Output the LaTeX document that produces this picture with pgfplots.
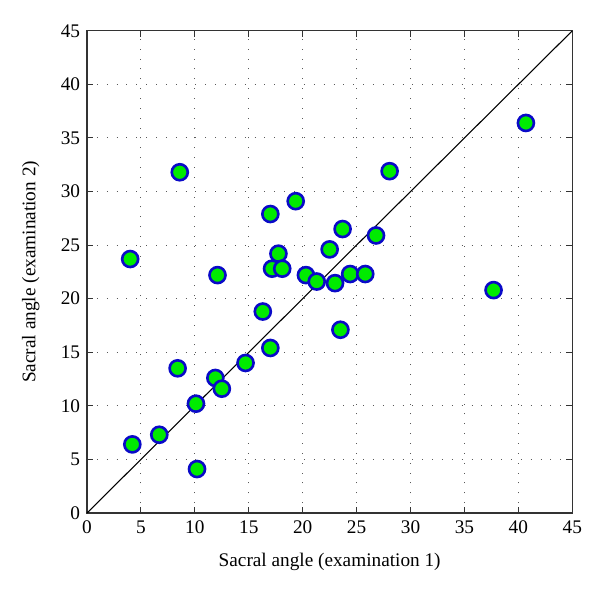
\documentclass[border=0pt]{standalone}
\usepackage{fontspec}
\setmainfont{Liberation Serif}
\usepackage{pgfplots}
\pgfplotsset{compat=1.18}
\definecolor{ptfill}{RGB}{0,235,0}
\definecolor{ptedge}{RGB}{10,10,200}
\begin{document}
\begin{tikzpicture}
\begin{axis}[
  scale only axis,
  width=315pt, height=313pt,
  xmin=0, xmax=45, ymin=0, ymax=45,
  xtick={0,5,...,45}, ytick={0,5,...,45},
  tick align=inside,
  major tick length=4pt,
  grid=major,
  grid style={black!65, line width=0.6pt, dash pattern=on 0.6pt off 5.8pt},
  axis line style={black!80, line width=0.8pt},
  tick style={black!80, line width=0.6pt},
  /pgf/number format/assume math mode=true,
  tick label style={font=\fontsize{12.5}{14}\selectfont},
  xticklabel style={yshift=-1.5pt},
  yticklabel style={xshift=-1pt},
  label style={font=\fontsize{12.5}{15}\selectfont},
  xlabel={Sacral angle (examination 1)},
  ylabel={Sacral angle (examination 2)},
  xlabel style={yshift=-6pt},
  ylabel style={yshift=7pt},
  clip=false,
]
\addplot[only marks, mark=*, mark size=5.2pt,
  mark options={fill=ptfill, draw=ptedge, line width=1.7pt}]
  coordinates {
  (4.0,23.7) (8.6,31.8) (4.2,6.4) (6.7,7.3) (8.4,13.5)
  (10.1,10.2) (10.2,4.1) (11.9,12.6) (12.5,11.6) (12.1,22.2)
  (14.7,14.0) (17.0,15.4) (16.3,18.8) (17.0,27.9) (17.16,22.8)
  (17.75,24.2) (18.1,22.8) (19.35,29.1) (20.3,22.2) (21.3,21.6)
  (23.0,21.45) (22.5,24.6) (23.5,17.1) (23.7,26.5) (24.4,22.3)
  (25.8,22.3) (26.8,25.9) (28.06,31.9) (37.7,20.8) (40.7,36.4)
  };
\addplot[black, line width=0.7pt] coordinates {(0,0) (45,45)};
\path (rel axis cs:0,0) ++(-56.5pt,-52pt) coordinate (bbsw);
\path (rel axis cs:1,1) ++(18pt,20pt) coordinate (bbne);
\end{axis}
\useasboundingbox (bbsw) rectangle (bbne);
\end{tikzpicture}
\end{document}
